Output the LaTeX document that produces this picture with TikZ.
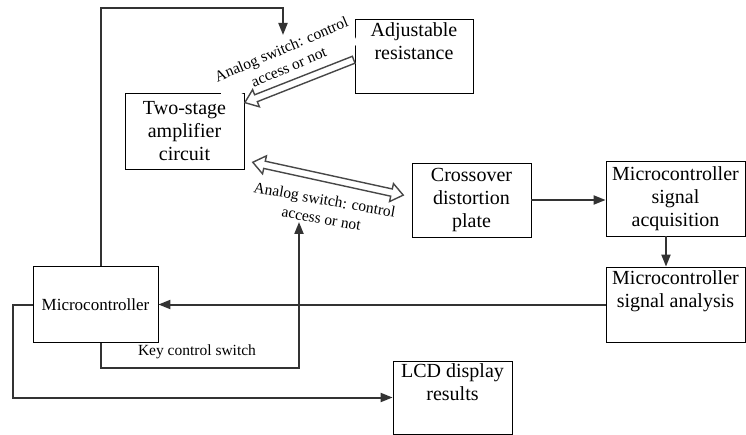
\documentclass[tikz,border=0pt]{standalone}
\usepackage{fontspec}
\setmainfont{Liberation Serif}
\usetikzlibrary{arrows.meta, shapes.arrows, calc}

\begin{document}
\begin{tikzpicture}[x=1pt, y=-1pt,
    box/.style={draw, line width=0.8pt, inner sep=0pt, align=center, font=\fontsize{20}{23}\selectfont},
    lbl/.style={align=center, fill=white, inner sep=1pt, font=\fontsize{15.5}{19}\selectfont},
    conn/.style={draw=black!80, line width=2pt, -{Triangle[length=12pt, width=9pt]}},
    hollow/.style={draw=black!72, line width=1.4pt, fill=white, inner xsep=0pt, inner ysep=3pt,
      text height=0pt, text depth=0pt, sloped, allow upside down}]
  \useasboundingbox (0,0) rectangle (746,435);

  \node[box, minimum width=118pt, minimum height=74pt] (adj) at (414,56) {Adjustable\\resistance\\\strut};
  \node[box, minimum width=119pt, minimum height=76pt] (amp) at (184.5,131) {Two-stage\\amplifier\\circuit};
  \node[box, minimum width=119pt, minimum height=74pt] (cross) at (471.5,200) {Crossover\\distortion\\plate};
  \node[box, minimum width=139pt, minimum height=75pt] (acq) at (675.5,198.5) {Microcontroller\\signal\\acquisition};
  \node[box, minimum width=139pt, minimum height=75pt] (ana) at (675.5,304.5) {Microcontroller\\signal analysis\\\strut};
  \node[box, minimum width=125pt, minimum height=76pt, font=\fontsize{17}{20}\selectfont] (mcu) at (95.5,304.5) {Microcontroller};
  \node[box, minimum width=119pt, minimum height=73pt] (lcd) at (452.5,397.5) {LCD display\\results\\\strut};

  \node[lbl, rotate=23] (sw1lbl) at (285,58) {Analog switch: control\\access or not};
  \node[lbl, rotate=-10] (sw2lbl) at (323,209) {Analog switch: control\\access or not};
  \node[lbl, fill=none] (key) at (197,352) {Key control switch};

  \path ($(adj.west)+(1,3)$) -- ($(amp.north east)+(3,9)$)
    node[midway, hollow, single arrow, single arrow head extend=5.5pt, single arrow tip angle=75, minimum height=117pt] (sw1) {};
  \path ($(amp.south east)+(9,-7)$) -- ($(cross.west)+(-9,-5)$)
    node[midway, hollow, double arrow, double arrow head extend=5.5pt, double arrow tip angle=75, minimum height=154pt] (sw2) {};

  \coordinate (swtop) at (283,35);
  \coordinate (swbot) at (299,222);
  \draw[conn] ([xshift=5.5pt]mcu.north) -- ++(0,-258) -| (swtop);
  \draw[conn] ([xshift=5.5pt]mcu.south) -- ++(0,25) -| (swbot);
  \draw[conn] (mcu.west) -- ++(-20,0) |- (lcd.west);
  \draw[conn] (ana.west) -- (mcu.east);
  \draw[conn] (cross.east) -- (cross.east -| acq.west);
  \draw[conn] ([xshift=-9.5pt]acq.south) -- ([xshift=-9.5pt]ana.north);
\end{tikzpicture}
\end{document}
